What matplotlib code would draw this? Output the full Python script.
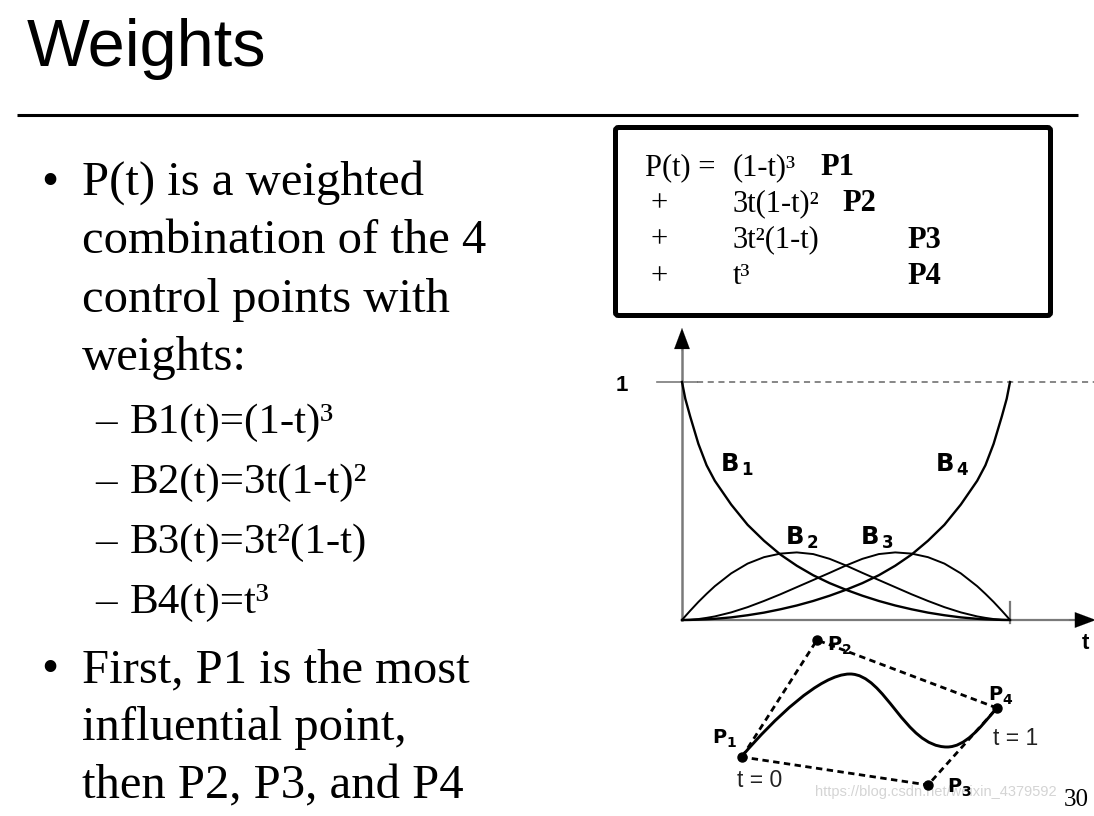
import matplotlib.pyplot as plt
from matplotlib.patches import FancyBboxPatch, PathPatch
from matplotlib.path import Path

W, H = 1094, 816
SERIF = "Liberation Serif"
SANS = "Liberation Sans"
WIDE = "DejaVu Sans"

# slide text
title = "Weights"
bullet1 = ["P(t) is a weighted", "combination of the 4", "control points with", "weights:"]
weights = ["B1(t)=(1-t)³", "B2(t)=3t(1-t)²", "B3(t)=3t²(1-t)", "B4(t)=t³"]
bullet2 = ["First, P1 is the most", "influential point,", "then P2, P3, and P4"]

formula_terms = ["(1-t)³", "3t(1-t)²", "3t²(1-t)", "t³"]
formula_points = ["P1", "P2", "P3", "P4"]

# basis curves as drawn on the slide
t_vals = [0, 0.01, 0.025, 0.05, 0.075, 0.1, 0.15, 0.2, 0.25, 0.3, 0.35, 0.4, 0.45, 0.5,
          0.55, 0.6, 0.65, 0.7, 0.75, 0.8, 0.85, 0.9, 0.925, 0.95, 0.975, 0.99, 1]
b1 = [1.0, 0.93, 0.855, 0.74, 0.65, 0.585, 0.485, 0.40, 0.333, 0.275, 0.228, 0.188, 0.155, 0.127,
      0.102, 0.080, 0.061, 0.045, 0.031, 0.020, 0.011, 0.005, 0.003, 0.0015, 0.0004, 0.0001, 0.0]
b2 = [0.0, 0.016, 0.039, 0.076, 0.110, 0.142, 0.196, 0.237, 0.264, 0.279, 0.284, 0.277, 0.257, 0.229,
      0.198, 0.168, 0.138, 0.108, 0.080, 0.054, 0.032, 0.015, 0.009, 0.004, 0.001, 0.0002, 0.0]
b3 = [0.0, 0.0002, 0.001, 0.004, 0.009, 0.015, 0.032, 0.054, 0.080, 0.108, 0.138, 0.168, 0.198, 0.229,
      0.257, 0.277, 0.284, 0.279, 0.264, 0.237, 0.196, 0.142, 0.110, 0.076, 0.039, 0.016, 0.0]
b4 = [0.0, 0.0001, 0.0004, 0.0015, 0.003, 0.005, 0.011, 0.020, 0.031, 0.045, 0.061, 0.080, 0.102, 0.127,
      0.155, 0.188, 0.228, 0.275, 0.333, 0.40, 0.485, 0.585, 0.65, 0.74, 0.855, 0.93, 1.0]
basis_labels = ["1", "2", "3", "4"]

# bezier sketch: control points and the drawn curve (sketch units)
ctrl_names = ["1", "2", "3", "4"]
ctrl_x = [42, 117, 228, 297]
ctrl_y = [43, 160, 15, 92]
curve_x = [43, 73, 120, 150, 185, 205, 247, 265, 280, 295]
curve_y = [45, 80, 126, 126, 126, 53, 53, 53, 72, 90]

fig = plt.figure(figsize=(W / 100, H / 100), dpi=100)

# slide background in pixel units
bg = fig.add_axes([0, 0, 1, 1])
bg.set_xlim(0, W)
bg.set_ylim(H, 0)
bg.axis("off")

bg.text(27, 66, title, fontsize=48, family=SANS, va="baseline")
bg.plot([17, 1078], [115, 115], color="black", lw=2.2, solid_capstyle="butt")

bg.text(41, 195, "•", fontsize=35, family=SERIF, va="baseline")
for i, line in enumerate(bullet1):
    bg.text(82, 195 + i * 58.3, line, fontsize=35, family=SERIF, va="baseline")
for i, line in enumerate(weights):
    y = 433 + i * 60
    bg.text(95, y, "–", fontsize=31, family=SERIF, va="baseline")
    bg.text(130, y, line, fontsize=31, family=SERIF, va="baseline")
bg.text(41, 682, "•", fontsize=35, family=SERIF, va="baseline")
for i, line in enumerate(bullet2):
    bg.text(82, 682 + i * 58, line, fontsize=35, family=SERIF, va="baseline")

# formula box
bg.add_patch(FancyBboxPatch((615.5, 127.5), 435, 188, boxstyle="round,pad=0,rounding_size=3",
                            fc="none", ec="black", lw=3.6))
pt_x = [820, 842, 907, 907]
for i in range(4):
    y = 175 + i * 36.3
    if i == 0:
        bg.text(645, y, "P(t) =", fontsize=22, family=SERIF, va="baseline")
    else:
        bg.text(651, y, "+", fontsize=22, family=SERIF, va="baseline")
    bg.text(733, y, formula_terms[i], fontsize=22, family=SERIF, va="baseline")
    bg.text(pt_x[i], y, formula_points[i], fontsize=22, family=SERIF, weight="bold", va="baseline")

bg.text(815, 796, "https://blog.csdn.net/weixin_4379592", fontsize=10.5, family=SANS,
        color="#d4d4d4", va="baseline")
bg.text(1064, 806, "30", fontsize=18, family=SERIF, va="baseline")

# basis function plot
ax = fig.add_axes([682 / W, (H - 620) / H, 328 / W, 238 / H])
ax.set_xlim(0, 1)
ax.set_ylim(0, 1)
ax.axis("off")
axis_c = "#7a7a7a"
head = dict(arrowstyle="-|>,head_length=0.75,head_width=0.28", color="black",
            lw=0.1, mutation_scale=20, shrinkA=0, shrinkB=0)
ax.plot([0, 0], [0, 1.16], color=axis_c, lw=1.8, clip_on=False)
ax.plot([0, 1.2], [0, 0], color=axis_c, lw=1.6, clip_on=False)
ax.annotate("", xy=(0, 1.227), xytext=(0, 1.13), arrowprops=head, annotation_clip=False)
ax.annotate("", xy=(1.262, 0), xytext=(1.18, 0), arrowprops=head, annotation_clip=False)
ax.plot([1, 1], [-0.013, 0.076], color=axis_c, lw=1.6, clip_on=False)
ax.plot([-0.076, 0.046], [1, 1], color=axis_c, lw=1.2, clip_on=False)
ax.plot([0.046, 1.26], [1, 1], color="#666666", lw=1.1, dashes=(4, 3), clip_on=False)
ax.text(-0.184, 0.985, "1", fontsize=16, family=SANS, weight="bold", ha="center", va="center")
ax.text(1.229, -0.10, "t", fontsize=16, family=SANS, weight="bold", ha="center", va="center")

ax.plot(t_vals, b1, color="black", lw=1.7, clip_on=False)
ax.plot(t_vals, b4, color="black", lw=1.7, clip_on=False)
ax.plot(t_vals, b2, color="black", lw=1.4, clip_on=False)
ax.plot(t_vals, b3, color="black", lw=1.4, clip_on=False)

lab_x = [0.119, 0.317, 0.546, 0.774]
lab_y = [0.626, 0.319, 0.319, 0.626]
for i, s in enumerate(basis_labels):
    ax.text(lab_x[i], lab_y[i], "B", fontsize=17.5, family=WIDE, weight="bold", va="baseline")
    ax.text(lab_x[i] + 0.062, lab_y[i] - 0.018, s, fontsize=12, family=WIDE, weight="bold",
            va="baseline")

# bezier sketch
sk = fig.add_axes([700 / W, (H - 800) / H, 360 / W, 175 / H])
sk.set_xlim(0, 360)
sk.set_ylim(0, 175)
sk.axis("off")
order = [0, 1, 3, 2, 0]
sk.plot([ctrl_x[i] for i in order], [ctrl_y[i] for i in order], color="black", lw=2.0,
        dashes=(2.3, 1.6), clip_on=False)
codes = [Path.MOVETO] + [Path.CURVE4] * (len(curve_x) - 1)
sk.add_patch(PathPatch(Path(list(zip(curve_x, curve_y)), codes), fc="none", ec="black", lw=2.1))
sk.plot(ctrl_x, ctrl_y, "o", color="black", ms=6.5, clip_on=False)

p_lx = [12, 127, 247, 288]
p_ly = [57, 150, 8, 100]
for i, s in enumerate(ctrl_names):
    sk.text(p_lx[i], p_ly[i], "P", fontsize=14, family=WIDE, weight="bold", va="baseline")
    sk.text(p_lx[i] + 14.5, p_ly[i] - 4, s, fontsize=10, family=WIDE, weight="bold", va="baseline")
sk.text(37, 13, "t = 0", fontsize=16.5, family=SANS, va="baseline", color="#222222")
sk.text(293, 55, "t = 1", fontsize=16.5, family=SANS, va="baseline", color="#222222")

fig.savefig("out.png", dpi=100)
